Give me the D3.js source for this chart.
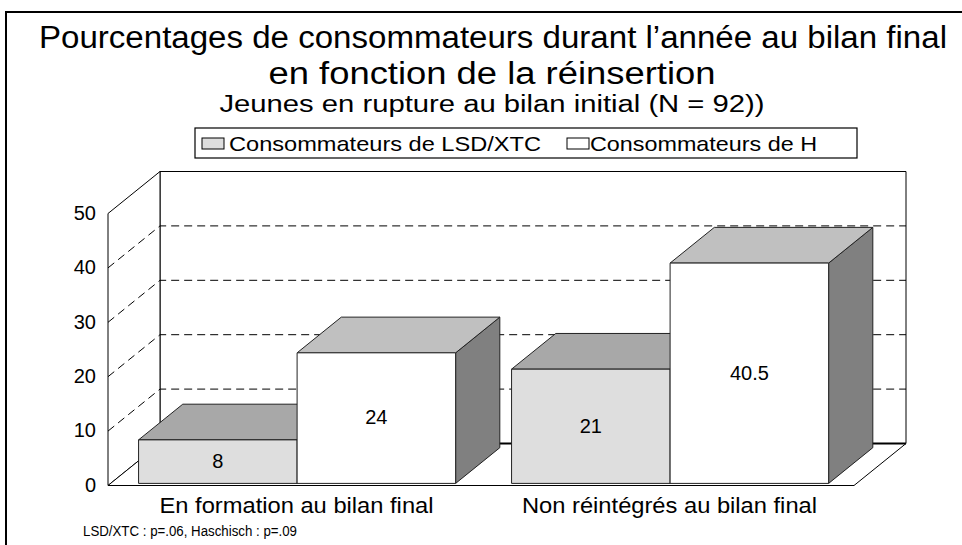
<!DOCTYPE html>
<html>
<head>
<meta charset="UTF-8">
<title>Pourcentages de consommateurs</title>
<style>
    body { margin: 0; background: #fff; }
    svg text { font-family: "Liberation Sans", Arial, sans-serif; fill: #000; }
    .tick { font-size: 20px; text-anchor: end; dominant-baseline: middle; }
    .val { font-size: 20px; text-anchor: middle; dominant-baseline: middle; }
    .cat { font-size: 22px; text-anchor: middle; }
</style>
</head>
<body>
<script src="https://d3js.org/d3.v7.min.js"></script>
<svg id="svg" width="962" height="545"></svg>
<script>
    // data
    const categories = ["En formation au bilan final", "Non réintégrés au bilan final"];
    const series = ["Consommateurs de LSD/XTC", "Consommateurs de H"];
    const lsdValues = [8, 21];
    const hValues = [24, 40.5];
    const valueLabels = [["8", "24"], ["21", "40.5"]];
    const yTicks = [0, 10, 20, 30, 40, 50];

    const svg = d3.select("#svg");

    // 3d box geometry
    var left = 108, right = 854, depthX = 52, depthY = -42;
    var y = d3.scaleLinear().domain([0, 50]).range([485.5, 213.5]);
    var x0 = d3.scaleBand().domain(categories).range([left, right]).paddingInner(0.15).paddingOuter(0.075);
    var x1 = d3.scaleBand().domain(series).range([0, x0.bandwidth()]);

    function pt(x, yy, z) { return [x + z * depthX, yy + z * depthY]; }
    function poly(pts) { return "M" + pts.map(p => p.join(",")).join("L") + "Z"; }

    // frame
    svg.append("line").attr("x1", 5).attr("y1", 12).attr("x2", 962).attr("y2", 12).attr("stroke", "#000").attr("stroke-width", 2);
    svg.append("line").attr("x1", 6).attr("y1", 12).attr("x2", 6).attr("y2", 545).attr("stroke", "#000").attr("stroke-width", 2);

    // titles (condensed face, so squeeze to the measured widths)
    svg.append("text").attr("x", 493).attr("y", 48).attr("text-anchor", "middle").style("font-size", "31px")
        .attr("textLength", 908).attr("lengthAdjust", "spacingAndGlyphs")
        .text("Pourcentages de consommateurs durant l’année au bilan final");
    svg.append("text").attr("x", 492).attr("y", 84).attr("text-anchor", "middle").style("font-size", "31px")
        .attr("textLength", 447).attr("lengthAdjust", "spacingAndGlyphs")
        .text("en fonction de la réinsertion");
    svg.append("text").attr("x", 492).attr("y", 112).attr("text-anchor", "middle").style("font-size", "23px")
        .attr("textLength", 545).attr("lengthAdjust", "spacingAndGlyphs")
        .text("Jeunes en rupture au bilan initial (N = 92))");

    // legend
    var lg = svg.append("g");
    lg.append("rect").attr("x", 195).attr("y", 128).attr("width", 662).attr("height", 30).attr("fill", "#fff").attr("stroke", "#000").attr("stroke-width", 1.2);
    var legendItems = [
        { name: series[0], sx: 202, tx: 229, w: 312, fill: "#dedede" },
        { name: series[1], sx: 567, tx: 590, w: 227, fill: "#fff" }
    ];
    legendItems.forEach(function (d) {
        lg.append("rect").attr("x", d.sx).attr("y", 138).attr("width", 22).attr("height", 11).attr("fill", d.fill).attr("stroke", "#000");
        lg.append("text").attr("x", d.tx).attr("y", 151).style("font-size", "21px")
            .attr("textLength", d.w).attr("lengthAdjust", "spacingAndGlyphs").text(d.name);
    });

    // walls
    var walls = svg.append("g").attr("fill", "#fff").attr("stroke", "#000").attr("stroke-width", 1);
    walls.append("path").attr("d", poly([pt(left, y(0), 1), pt(right, y(0), 1), pt(right, y(50), 1), pt(left, y(50), 1)]));
    walls.append("path").attr("d", poly([pt(left, y(0), 0), pt(left, y(0), 1), pt(left, y(50), 1), pt(left, y(50), 0)]));
    walls.append("path").attr("d", poly([pt(left, y(0), 0), pt(right, y(0), 0), pt(right, y(0), 1), pt(left, y(0), 1)]));
    svg.append("line").attr("x1", pt(left, y(0), 1)[0]).attr("y1", pt(left, y(0), 1)[1])
        .attr("x2", pt(right, y(0), 1)[0]).attr("y2", pt(right, y(0), 1)[1]).attr("stroke", "#000").attr("stroke-width", 2);

    // grid lines
    var grid = svg.append("g").attr("stroke", "#000").attr("stroke-dasharray", "8,5").attr("fill", "none");
    yTicks.filter(t => t > 0 && t < 50).forEach(function (t) {
        var a = pt(left, y(t), 0), b = pt(left, y(t), 1), c = pt(right, y(t), 1);
        grid.append("path").attr("d", "M" + a + "L" + b + "L" + c);
    });

    // y axis labels
    svg.selectAll(".tick").data(yTicks).enter().append("text").attr("class", "tick")
        .attr("x", 96).attr("y", d => y(d) + 1).text(d => d);

    // bars
    var z0 = 0.05, z1 = 0.9;
    var styles = [
        { front: "#dedede", top: "#a8a8a8", side: "#6e6e6e" },
        { front: "#ffffff", top: "#c0c0c0", side: "#808080" }
    ];
    var bars = svg.append("g").attr("stroke", "#222").attr("stroke-width", 1).attr("stroke-linejoin", "round");
    categories.forEach(function (c, i) {
        [lsdValues[i], hValues[i]].forEach(function (v, j) {
            var xa = x0(c) + x1(series[j]), xb = xa + x1.bandwidth();
            var yb = y(0), yt = y(v), st = styles[j];
            bars.append("path").attr("fill", st.side)
                .attr("d", poly([pt(xb, yb, z0), pt(xb, yb, z1), pt(xb, yt, z1), pt(xb, yt, z0)]));
            bars.append("path").attr("fill", st.top)
                .attr("d", poly([pt(xa, yt, z0), pt(xb, yt, z0), pt(xb, yt, z1), pt(xa, yt, z1)]));
            bars.append("path").attr("fill", st.front)
                .attr("d", poly([pt(xa, yb, z0), pt(xb, yb, z0), pt(xb, yt, z0), pt(xa, yt, z0)]));
            var m = pt((xa + xb) / 2, (yb + yt) / 2, z0);
            svg.append("text").attr("class", "val").attr("x", m[0]).attr("y", m[1] + 1).text(valueLabels[i][j]);
        });
    });

    // category labels
    svg.selectAll(".cat").data(categories).enter().append("text").attr("class", "cat")
        .attr("x", d => x0(d) + x0.bandwidth() / 2 + 2).attr("y", 513)
        .attr("textLength", (d, i) => [274, 295][i]).attr("lengthAdjust", "spacingAndGlyphs").text(d => d);

    // note
    svg.append("text").attr("x", 83).attr("y", 536).style("font-size", "14px")
        .attr("textLength", 214).attr("lengthAdjust", "spacingAndGlyphs")
        .text("LSD/XTC : p=.06, Haschisch : p=.09");
</script>
</body>
</html>
